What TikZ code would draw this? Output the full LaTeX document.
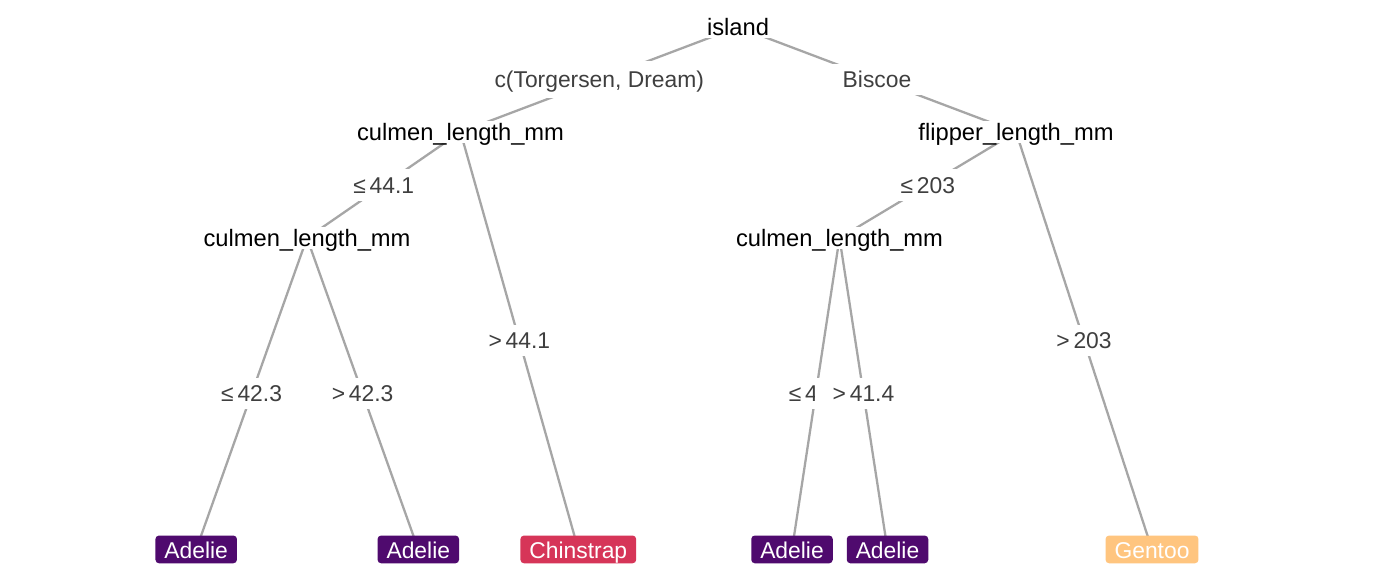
\documentclass[tikz,border=0pt]{standalone}
\usepackage{fontspec}
\setmainfont{Liberation Sans}
\usetikzlibrary{backgrounds}

\definecolor{edgegrey}{HTML}{A6A6A6}
\definecolor{cutgrey}{HTML}{3F3F3F}
\definecolor{adelie}{HTML}{4F0A6E}
\definecolor{chinstrap}{HTML}{D63558}
\definecolor{gentoo}{HTML}{FFC57F}

\tikzset{
    splitnode/.style={fill=white, inner xsep=0.08cm, inner ysep=0.05cm,
        font=\fontsize{13.5}{16}\selectfont, text height=0.95em, text depth=0em},
    cutlabel/.style={fill=white, text=cutgrey, inner xsep=0.36cm, inner ysep=0.15cm,
        font=\fontsize{13}{15}\selectfont, text height=0.94em, text depth=0em},
    leafnode/.style={rounded corners=0.07cm, text=white, inner xsep=0.18cm, inner ysep=0.105cm,
        font=\fontsize{13}{15}\selectfont, text height=0.98em, text depth=0em},
    branch/.style={draw=edgegrey, line width=1.3pt}
}

\begin{document}
\begin{tikzpicture}[x=0.02cm, y=-0.02cm]
    \useasboundingbox (0,0) rectangle (1400,576);

    % inner nodes
    \node[splitnode] (island) at (738,27) {island};
    \node[splitnode] (culA) at (460.5,132) {culmen\_length\_mm};
    \node[splitnode] (flip) at (1016,132) {flipper\_length\_mm};
    \node[splitnode] (culB) at (307,238) {culmen\_length\_mm};
    \node[splitnode] (culC) at (839.5,238) {culmen\_length\_mm};

    % leaves
    \node[leafnode, fill=adelie] (leafA) at (196.2,549.4) {Adelie};
    \node[leafnode, fill=adelie] (leafB) at (418.3,549.4) {Adelie};
    \node[leafnode, fill=chinstrap] (leafC) at (578.3,549.4) {Chinstrap};
    \node[leafnode, fill=adelie] (leafD) at (792,549.4) {Adelie};
    \node[leafnode, fill=adelie] (leafE) at (887.5,549.4) {Adelie};
    \node[leafnode, fill=gentoo] (leafF) at (1152,549.4) {Gentoo};

    \begin{scope}[on background layer]
        \fill[white] (0,0) rectangle (1400,576);
        \draw[branch] (island.center) -- node[cutlabel, midway, text height=1.1em, text depth=0.16em] {c(Torgersen, Dream)} (culA.center);
        \draw[branch] (island.center) -- node[cutlabel, midway] {Biscoe} (flip.center);
        \draw[branch] (culA.center) -- node[cutlabel, midway] {≤\,44.1} (culB.center);
        \draw[branch] (culA.center) -- node[cutlabel, midway] {>\,44.1} (leafC.center);
        \draw[branch] (culB.center) -- node[cutlabel, midway] {≤\,42.3} (leafA.center);
        \draw[branch] (culB.center) -- node[cutlabel, midway] {>\,42.3} (leafB.center);
        \draw[branch] (flip.center) -- node[cutlabel, midway] {≤\,203} (culC.center);
        \draw[branch] (flip.center) -- node[cutlabel, midway] {>\,203} (leafF.center);
        \draw[branch] (culC.center) -- node[cutlabel, midway, anchor=west, xshift=-0.64cm, inner xsep=0.08cm] {≤\,4} (leafD.center);
        \draw[branch] (culC.center) -- node[cutlabel, midway] {>\,41.4} (leafE.center);
    \end{scope}
\end{tikzpicture}
\end{document}
